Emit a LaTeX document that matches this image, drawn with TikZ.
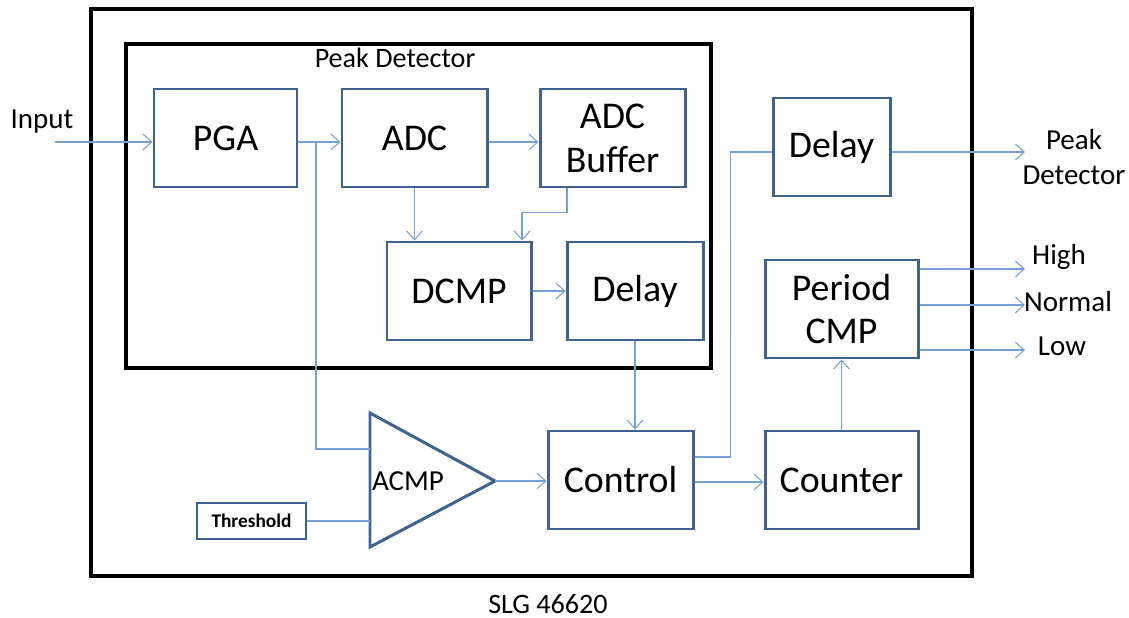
\documentclass[tikz,border=0pt]{standalone}
\usepackage{fontspec}
\setmainfont{Carlito}
\usepackage{xcolor}
\usetikzlibrary{arrows.meta}
\usetikzlibrary{positioning}
\definecolor{boxblue}{RGB}{63,98,145}
\definecolor{linkblue}{RGB}{120,160,210}

\begin{document}
\begin{tikzpicture}[>={Straight Barb[length=5pt,width=9pt]},
  blk/.style={draw=boxblue,line width=1.7pt,minimum height=1.96cm,align=center,font=\fontsize{21.5}{25}\selectfont},
  lnk/.style={draw=linkblue,line width=0.6pt},
  lbl/.style={align=center,font=\fontsize{16.5}{19.5}\selectfont}]
  \useasboundingbox (0,0) rectangle (22.58,-12.36);
  % frames
  \draw[line width=1.8pt] (1.82,-0.18) rectangle (19.44,-11.52);
  \draw[line width=1.8pt] (2.52,-0.88) rectangle (14.22,-7.36);
  \node[font=\fontsize{16}{18}\selectfont] (pdlabel) at (7.90,-1.16) {Peak Detector};
  \node[font=\fontsize{16}{18}\selectfont] (chip) at (10.96,-12.08) {SLG 46620};
  % blocks
  \node[blk,minimum width=2.86cm] (pga) at (4.51,-2.76) {PGA};
  \node[blk,minimum width=2.90cm] (adc) at (8.29,-2.76) {ADC};
  \node[blk,minimum width=2.90cm] (buf) at (12.25,-2.76) {ADC\\Buffer};
  \node[blk,minimum width=2.88cm] (dcmp) at (9.18,-5.82) {DCMP};
  \node[blk,minimum width=2.72cm] (dly1) at (12.70,-5.82) {Delay};
  \node[blk,minimum width=2.34cm] (dly2) at (16.63,-2.94) {Delay};
  \node[blk,minimum width=3.06cm] (pcmp) at (16.83,-6.18) {Period\\CMP};
  \node[blk,minimum width=2.90cm] (ctrl) at (12.41,-9.60) {Control};
  \node[blk,minimum width=3.06cm] (cntr) at (16.83,-9.60) {Counter};
  \node[blk,minimum width=2.18cm,minimum height=0.72cm,font=\fontsize{11}{13}\selectfont\bfseries] (thr) at (5.03,-10.42) {Threshold};
  % comparator
  \draw[boxblue,line width=1.7pt,line join=miter] (7.40,-8.26) -- (9.90,-9.62) -- (7.40,-10.94) -- cycle;
  \node[lbl] (acmp) at (8.16,-9.62) {ACMP};
  \coordinate (acmpa) at (7.40,-8.98);
  \coordinate (acmpb) at (7.40,-10.42);
  \coordinate (acmpo) at (9.90,-9.62);
  % inputs and outputs
  \node[lbl] (inlbl) at (0.84,-2.44) {Input};
  \coordinate (in) at (1.10,-2.84);
  \coordinate (split) at (6.32,-2.84);
  \coordinate (pdout) at (20.50,-3.04);
  \coordinate (hiout) at (20.50,-5.38);
  \coordinate (nmout) at (20.50,-6.10);
  \coordinate (loout) at (20.50,-7.00);
  \node[lbl] (pdlbl) at (21.48,-3.14) {Peak\\Detector};
  \node[lbl] (hilbl) at (21.18,-5.14) {High};
  \node[lbl] (nmlbl) at (21.36,-6.04) {Normal};
  \node[lbl] (lolbl) at (21.24,-6.92) {Low};
  % connectors
  \draw[lnk,->] (in) -- (pga.west |- in);
  \draw[lnk,->] (pga.east |- in) -- (adc.west |- in);
  \draw[lnk,->] (adc.east |- in) -- (buf.west |- in);
  \draw[lnk] (split) |- (acmpa);
  \draw[lnk,->] (adc.south) -- (adc.south |- dcmp.north);
  \draw[lnk,->] ([xshift=-0.91cm]buf.south) -- ++(0,-0.48) -| ([xshift=1.26cm]dcmp.north);
  \draw[lnk,->] (dcmp) -- (dly1);
  \draw[lnk,->] (dly1.south) -- (dly1.south |- ctrl.north);
  \draw[lnk] (thr) -- (acmpb);
  \draw[lnk,->] (acmpo) -- (ctrl.west |- acmpo);
  \draw[lnk,->] ([yshift=-0.04cm]ctrl.east) -- ([yshift=-0.04cm]cntr.west);
  \draw[lnk] ([yshift=0.46cm]ctrl.east) -- ++(0.72,0) |- (dly2.west |- pdout);
  \draw[lnk,->] (dly2.east |- pdout) -- (pdout);
  \draw[lnk,->] (cntr) -- (pcmp);
  \draw[lnk,->] (pcmp.east |- hiout) -- (hiout);
  \draw[lnk,->] (pcmp.east |- nmout) -- (nmout);
  \draw[lnk,->] (pcmp.east |- loout) -- (loout);
\end{tikzpicture}
\end{document}
